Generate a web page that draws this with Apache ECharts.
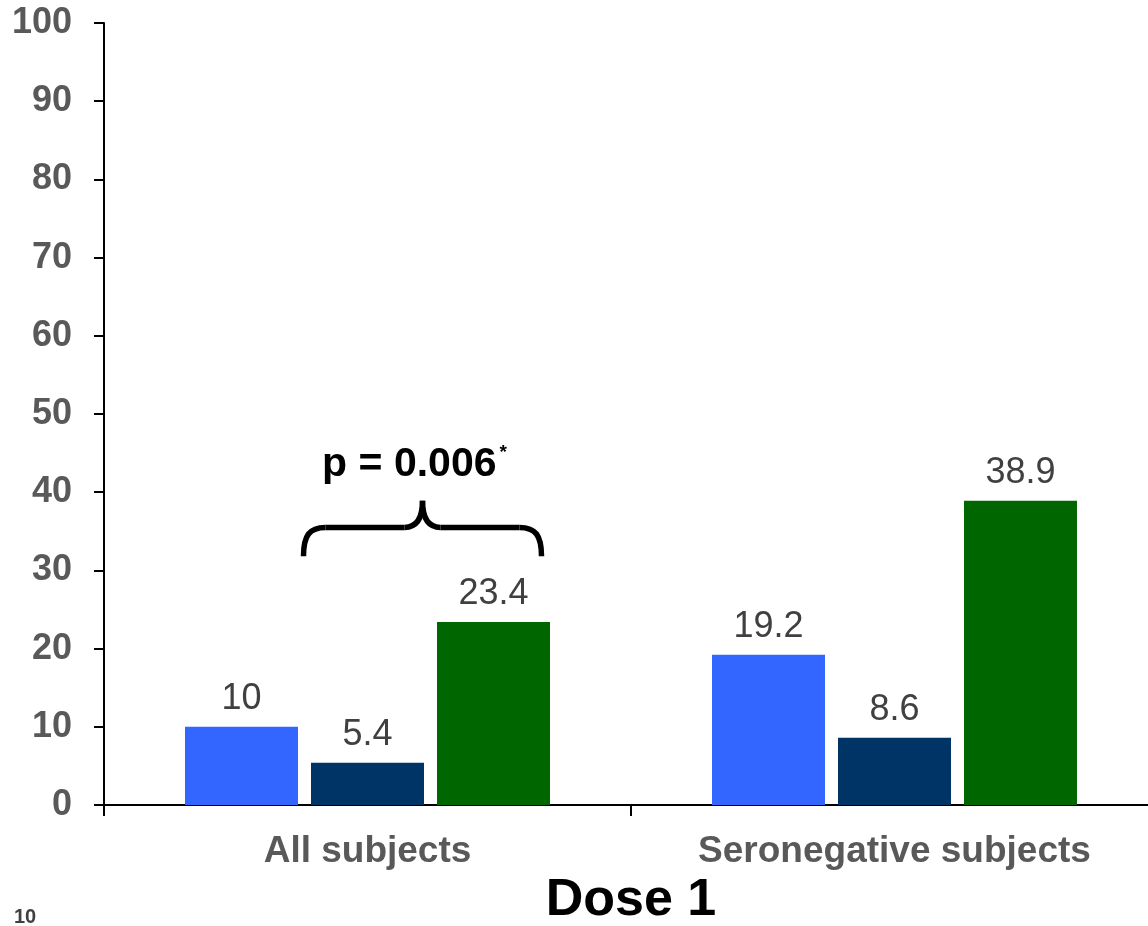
<!DOCTYPE html>
<html>
<head>
<meta charset="utf-8">
<title>Dose 1</title>
<script src="https://cdn.jsdelivr.net/npm/echarts@6/dist/echarts.min.js"></script>
<style>
  html, body { margin: 0; padding: 0; background: #ffffff; }
  #chart { width: 1148px; height: 926px; }
</style>
</head>
<body>
<div id="chart"></div>
<script>
// Groups on the x axis and the three bars drawn in each group
const categories = ['All subjects', 'Seronegative subjects'];
const seriesBlue = [10, 19.2];
const seriesNavy = [5.4, 8.6];
const seriesGreen = [23.4, 38.9];
const yTicks = { min: 0, max: 100, interval: 10 };
const pValueText = 'p = 0.006';
const axisTitle = 'Dose 1';
const pageNumber = '10';

const FONT = 'Liberation Sans, Arial, Helvetica, sans-serif';
const GRAY = '#595959';

const chart = echarts.init(document.getElementById('chart'), null, { renderer: 'canvas' });

function barSeries(name, data, color) {
  return {
    name: name,
    type: 'bar',
    data: data,
    barWidth: 113,
    barGap: '11.5%',
    itemStyle: { color: color },
    label: {
      show: true,
      position: 'top',
      distance: 10,
      color: '#404040',
      fontFamily: FONT,
      fontSize: 36,
      formatter: p => String(p.value)
    }
  };
}

const option = {
  animation: false,
  backgroundColor: '#ffffff',
  grid: { left: 104, width: 1054, top: 23, bottom: 121, containLabel: false, outerBoundsMode: 'none' },
  xAxis: {
    type: 'category',
    data: categories,
    boundaryGap: true,
    axisLine: { lineStyle: { color: '#000', width: 2 } },
    axisTick: { show: true, length: 11, lineStyle: { color: '#000', width: 2 } },
    axisLabel: { color: GRAY, fontFamily: FONT, fontWeight: 'bold', fontSize: 37, margin: 28 },
    name: axisTitle,
    nameLocation: 'middle',
    nameGap: 70,
    nameTextStyle: { color: '#000', fontFamily: FONT, fontWeight: 'bold', fontSize: 52 }
  },
  yAxis: {
    type: 'value',
    min: yTicks.min,
    max: yTicks.max,
    interval: yTicks.interval,
    splitLine: { show: false },
    axisLine: { show: true, lineStyle: { color: '#000', width: 2 } },
    axisTick: { show: true, length: 10, lineStyle: { color: '#000', width: 2 } },
    axisLabel: { color: GRAY, fontFamily: FONT, fontWeight: 'bold', fontSize: 36, margin: 32 }
  },
  series: [
    barSeries('Blue', seriesBlue, '#3366FF'),
    barSeries('Navy', seriesNavy, '#003366'),
    barSeries('Green', seriesGreen, '#006600')
  ]
};

chart.setOption(option);

// Curly bracket with the p-value over the first group
const yBrace = chart.convertToPixel({ yAxisIndex: 0 }, 35.5);
const yTip = chart.convertToPixel({ yAxisIndex: 0 }, 38.9);
const yHook = chart.convertToPixel({ yAxisIndex: 0 }, 31.8);
const cx = chart.convertToPixel({ xAxisIndex: 0 }, 0);
const xL = cx - 64, xR = cx + 174, xM = (xL + xR) / 2;
const r = 22;
const braceStyle = { fill: 'none', stroke: '#000', lineWidth: 5.5, lineCap: 'butt' };

function curve(x1, y1, c1x, c1y, c2x, c2y, x2, y2) {
  return {
    type: 'bezierCurve',
    shape: { x1: x1, y1: y1, cpx1: c1x, cpy1: c1y, cpx2: c2x, cpy2: c2y, x2: x2, y2: y2 },
    style: braceStyle
  };
}
function seg(x1, y1, x2, y2) {
  return { type: 'line', shape: { x1: x1, y1: y1, x2: x2, y2: y2 }, style: braceStyle };
}

const braceParts = [
  curve(xL, yHook, xL, yBrace + 8, xL + 6, yBrace, xL + r, yBrace),
  seg(xL + r, yBrace, xM - 18, yBrace),
  curve(xM - 18, yBrace, xM - 5, yBrace, xM, yBrace - 10, xM, yTip),
  curve(xM, yTip, xM, yBrace - 10, xM + 5, yBrace, xM + 18, yBrace),
  seg(xM + 18, yBrace, xR - r, yBrace),
  curve(xR - r, yBrace, xR - 6, yBrace, xR, yBrace + 8, xR, yHook)
];

chart.setOption({
  graphic: [
    { type: 'group', children: braceParts },
    {
      type: 'text',
      x: xM - 8,
      y: yTip - 14,
      style: {
        text: '{m|' + pValueText + '}{s|*}',
        align: 'center',
        verticalAlign: 'bottom',
        rich: {
          m: { fontFamily: FONT, fontWeight: 'bold', fontSize: 41, fill: '#000' },
          s: { fontFamily: FONT, fontWeight: 'bold', fontSize: 19, fill: '#000', padding: [0, 0, 25, 3] }
        }
      }
    },
    {
      type: 'text',
      x: 14,
      y: 907,
      style: { text: pageNumber, fontFamily: FONT, fontWeight: 'bold', fontSize: 20, fill: '#404040' }
    }
  ]
});
</script>
</body>
</html>
